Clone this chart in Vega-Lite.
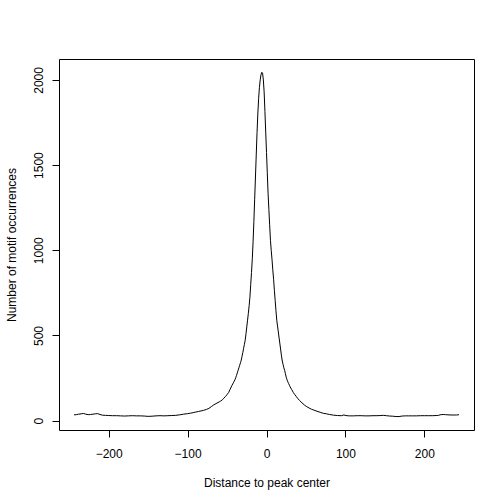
{
  "$schema": "https://vega.github.io/schema/vega-lite/v6.json",
  "width": 415,
  "height": 371,
  "autosize": "none",
  "padding": {"left": 59, "top": 59, "right": 30, "bottom": 74},
  "background": "white",
  "config": {
    "font": "Liberation Sans",
    "view": {"stroke": "#000000", "strokeWidth": 1},
    "axis": {
      "grid": false,
      "domain": false,
      "ticks": true,
      "tickColor": "#000000",
      "tickSize": 7,
      "labelFont": "Liberation Sans",
      "labelFontSize": 12,
      "labelColor": "#000000",
      "titleFont": "Liberation Sans",
      "titleFontSize": 12,
      "titleFontWeight": "normal",
      "titleColor": "#000000"
    }
  },
  "data": {
    "values": [
      {"distance": -244, "count": 34},
      {"distance": -241, "count": 35},
      {"distance": -238, "count": 38},
      {"distance": -235, "count": 40},
      {"distance": -232, "count": 42},
      {"distance": -229, "count": 38},
      {"distance": -226, "count": 35},
      {"distance": -223, "count": 36},
      {"distance": -220, "count": 38},
      {"distance": -217, "count": 40},
      {"distance": -214, "count": 41},
      {"distance": -211, "count": 36},
      {"distance": -208, "count": 32},
      {"distance": -204, "count": 31},
      {"distance": -200, "count": 30},
      {"distance": -195, "count": 29},
      {"distance": -190, "count": 29},
      {"distance": -185, "count": 28},
      {"distance": -180, "count": 27},
      {"distance": -175, "count": 28},
      {"distance": -170, "count": 29},
      {"distance": -165, "count": 28},
      {"distance": -160, "count": 28},
      {"distance": -155, "count": 27},
      {"distance": -150, "count": 25},
      {"distance": -145, "count": 26},
      {"distance": -140, "count": 28},
      {"distance": -135, "count": 29},
      {"distance": -130, "count": 28},
      {"distance": -125, "count": 29},
      {"distance": -120, "count": 30},
      {"distance": -115, "count": 31},
      {"distance": -110, "count": 34},
      {"distance": -105, "count": 38},
      {"distance": -100, "count": 41},
      {"distance": -96, "count": 44},
      {"distance": -93, "count": 47},
      {"distance": -90, "count": 50},
      {"distance": -86, "count": 54},
      {"distance": -83, "count": 57},
      {"distance": -80, "count": 60},
      {"distance": -76, "count": 66},
      {"distance": -73, "count": 72},
      {"distance": -70, "count": 82},
      {"distance": -67, "count": 92},
      {"distance": -64, "count": 100},
      {"distance": -60, "count": 110},
      {"distance": -58, "count": 115},
      {"distance": -56, "count": 122},
      {"distance": -54, "count": 132},
      {"distance": -52, "count": 142},
      {"distance": -50, "count": 153},
      {"distance": -48, "count": 165},
      {"distance": -46, "count": 185},
      {"distance": -44, "count": 205},
      {"distance": -42, "count": 222},
      {"distance": -40, "count": 240},
      {"distance": -39, "count": 252},
      {"distance": -38, "count": 266},
      {"distance": -37, "count": 280},
      {"distance": -36, "count": 295},
      {"distance": -35, "count": 310},
      {"distance": -34, "count": 325},
      {"distance": -33, "count": 340},
      {"distance": -32, "count": 355},
      {"distance": -31, "count": 378},
      {"distance": -30, "count": 400},
      {"distance": -29, "count": 425},
      {"distance": -28, "count": 448},
      {"distance": -27, "count": 472},
      {"distance": -26, "count": 510},
      {"distance": -25, "count": 550},
      {"distance": -24, "count": 590},
      {"distance": -23, "count": 630},
      {"distance": -22, "count": 675},
      {"distance": -21, "count": 725},
      {"distance": -20, "count": 800},
      {"distance": -19, "count": 870},
      {"distance": -18, "count": 950},
      {"distance": -17, "count": 1050},
      {"distance": -16, "count": 1170},
      {"distance": -15, "count": 1300},
      {"distance": -14, "count": 1430},
      {"distance": -13, "count": 1560},
      {"distance": -12, "count": 1690},
      {"distance": -11, "count": 1800},
      {"distance": -10, "count": 1890},
      {"distance": -9, "count": 1955},
      {"distance": -8, "count": 2000},
      {"distance": -7, "count": 2030},
      {"distance": -6, "count": 2045},
      {"distance": -5, "count": 2040},
      {"distance": -4, "count": 2000},
      {"distance": -3, "count": 1930},
      {"distance": -2, "count": 1815},
      {"distance": -1, "count": 1695},
      {"distance": 0, "count": 1575},
      {"distance": 1, "count": 1455},
      {"distance": 2, "count": 1335},
      {"distance": 3, "count": 1240},
      {"distance": 4, "count": 1150},
      {"distance": 5, "count": 1059},
      {"distance": 6, "count": 1000},
      {"distance": 7, "count": 945},
      {"distance": 8, "count": 885},
      {"distance": 9, "count": 830},
      {"distance": 10, "count": 765},
      {"distance": 11, "count": 705},
      {"distance": 12, "count": 645},
      {"distance": 13, "count": 590},
      {"distance": 14, "count": 555},
      {"distance": 15, "count": 520},
      {"distance": 16, "count": 485},
      {"distance": 17, "count": 450},
      {"distance": 18, "count": 415},
      {"distance": 19, "count": 380},
      {"distance": 20, "count": 350},
      {"distance": 21, "count": 330},
      {"distance": 22, "count": 310},
      {"distance": 23, "count": 295},
      {"distance": 24, "count": 275},
      {"distance": 25, "count": 255},
      {"distance": 26, "count": 240},
      {"distance": 27, "count": 228},
      {"distance": 28, "count": 218},
      {"distance": 29, "count": 208},
      {"distance": 30, "count": 198},
      {"distance": 32, "count": 182},
      {"distance": 34, "count": 165},
      {"distance": 36, "count": 152},
      {"distance": 38, "count": 140},
      {"distance": 40, "count": 128},
      {"distance": 42, "count": 118},
      {"distance": 45, "count": 104},
      {"distance": 48, "count": 92},
      {"distance": 51, "count": 82},
      {"distance": 54, "count": 74},
      {"distance": 57, "count": 67},
      {"distance": 60, "count": 62},
      {"distance": 64, "count": 55},
      {"distance": 68, "count": 49},
      {"distance": 72, "count": 43},
      {"distance": 76, "count": 40},
      {"distance": 80, "count": 36},
      {"distance": 85, "count": 32},
      {"distance": 90, "count": 30},
      {"distance": 95, "count": 29},
      {"distance": 98, "count": 33},
      {"distance": 102, "count": 29},
      {"distance": 105, "count": 28},
      {"distance": 110, "count": 28},
      {"distance": 115, "count": 29},
      {"distance": 120, "count": 29},
      {"distance": 125, "count": 28},
      {"distance": 130, "count": 28},
      {"distance": 135, "count": 29},
      {"distance": 140, "count": 29},
      {"distance": 145, "count": 30},
      {"distance": 148, "count": 31},
      {"distance": 152, "count": 29},
      {"distance": 156, "count": 27},
      {"distance": 160, "count": 26},
      {"distance": 164, "count": 24},
      {"distance": 168, "count": 24},
      {"distance": 172, "count": 27},
      {"distance": 176, "count": 28},
      {"distance": 180, "count": 28},
      {"distance": 185, "count": 28},
      {"distance": 190, "count": 28},
      {"distance": 195, "count": 29},
      {"distance": 200, "count": 29},
      {"distance": 205, "count": 29},
      {"distance": 210, "count": 29},
      {"distance": 215, "count": 30},
      {"distance": 218, "count": 31},
      {"distance": 221, "count": 35},
      {"distance": 224, "count": 36},
      {"distance": 227, "count": 35},
      {"distance": 230, "count": 34},
      {"distance": 234, "count": 33},
      {"distance": 238, "count": 33},
      {"distance": 241, "count": 33},
      {"distance": 244, "count": 35}
    ]
  },
  "mark": {"type": "line", "color": "#000000", "strokeWidth": 1, "clip": true},
  "encoding": {
    "x": {
      "field": "distance",
      "type": "quantitative",
      "scale": {"domain": [-263, 263], "nice": false, "zero": false},
      "axis": {
        "title": "Distance to peak center",
        "values": [-200, -100, 0, 100, 200],
        "format": "d",
        "labelBaseline": "alphabetic",
        "labelPadding": 20,
        "titleBaseline": "alphabetic",
        "titleX": 207.5,
        "titleY": 56,
        "titleAlign": "center"
      }
    },
    "y": {
      "field": "count",
      "type": "quantitative",
      "scale": {"domain": [-55, 2123], "nice": false, "zero": false},
      "axis": {
        "title": "Number of motif occurrences",
        "values": [0, 500, 1000, 1500, 2000],
        "format": "d",
        "labelAngle": -90,
        "labelAlign": "center",
        "labelBaseline": "alphabetic",
        "labelPadding": 10,
        "titleAngle": -90,
        "titleAlign": "center",
        "titleBaseline": "alphabetic",
        "titleX": -44,
        "titleY": 185.5
      }
    }
  }
}
